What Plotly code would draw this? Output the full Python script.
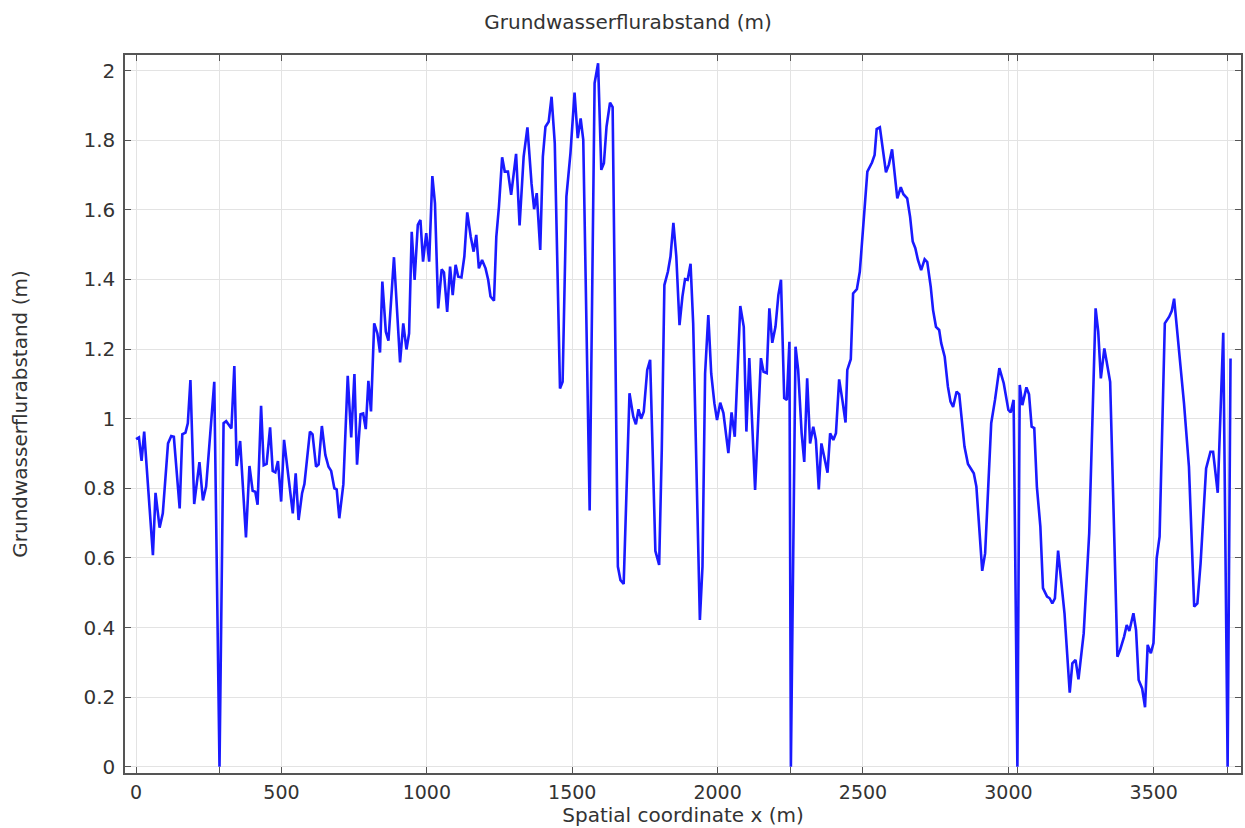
import plotly.graph_objects as go

# Groundwater depth below surface along the profile
x_m = [
    0, 10, 19, 28, 58, 67, 81, 92, 110, 121, 130, 150, 159, 170, 178, 187, 200, 218, 230, 241,
    269, 287, 301, 310, 328, 338, 346, 358, 378, 390, 401, 410, 418, 430, 439, 449, 461, 470, 479, 488,
    499, 509, 539, 549, 559, 571, 579, 598, 607, 619, 628, 639, 651, 662, 671, 682, 690, 699, 713, 728,
    740, 751, 760, 772, 781, 790, 799, 808, 819, 830, 839, 847, 859, 868, 887, 908, 919, 930, 939, 948,
    958, 969, 978, 987, 998, 1008, 1019, 1028, 1039, 1051, 1059, 1070, 1080, 1089, 1099, 1108, 1119, 1129, 1139, 1151,
    1161, 1170, 1179, 1190, 1202, 1211, 1219, 1231, 1239, 1248, 1259, 1268, 1279, 1290, 1307, 1319, 1333, 1346, 1360, 1369,
    1378, 1390, 1399, 1408, 1419, 1429, 1440, 1458, 1467, 1480, 1494, 1508, 1519, 1529, 1538, 1560, 1577, 1589, 1600, 1609,
    1618, 1630, 1639, 1657, 1666, 1677, 1697, 1710, 1719, 1728, 1737, 1746, 1758, 1768, 1786, 1799, 1808, 1817, 1829, 1838,
    1848, 1858, 1869, 1879, 1888, 1897, 1907, 1916, 1939, 1948, 1957, 1968, 1978, 1989, 1998, 2009, 2020, 2037, 2048, 2059,
    2078, 2090, 2099, 2109, 2129, 2149, 2158, 2169, 2178, 2188, 2199, 2209, 2218, 2229, 2238, 2247, 2252, 2268, 2277, 2289,
    2298, 2308, 2318, 2329, 2338, 2348, 2357, 2378, 2387, 2398, 2407, 2418, 2429, 2440, 2446, 2458, 2466, 2479, 2489, 2515,
    2531, 2540, 2547, 2558, 2579, 2589, 2600, 2609, 2618, 2630, 2639, 2652, 2662, 2671, 2680, 2689, 2700, 2712, 2721, 2733,
    2741, 2751, 2762, 2769, 2781, 2792, 2801, 2810, 2822, 2831, 2840, 2849, 2861, 2870, 2881, 2890, 2910, 2920, 2941, 2954,
    2969, 2984, 3000, 3008, 3018, 3031, 3039, 3048, 3062, 3071, 3080, 3089, 3098, 3110, 3119, 3133, 3142, 3151, 3160, 3171,
    3181, 3193, 3211, 3220, 3231, 3241, 3259, 3278, 3300, 3309, 3318, 3330, 3341, 3350, 3375, 3384, 3398, 3407, 3416, 3430,
    3439, 3448, 3460, 3470, 3479, 3490, 3499, 3510, 3520, 3538, 3553, 3562, 3570, 3587, 3604, 3621, 3639, 3650, 3661, 3680,
    3695, 3704, 3720, 3739, 3754, 3764,
]

depth_m = [
    0.941, 0.946, 0.879, 0.963, 0.608, 0.787, 0.687, 0.728, 0.929, 0.950, 0.948, 0.742, 0.955, 0.960, 0.987, 1.111, 0.755, 0.875, 0.765, 0.805,
    1.106, 0.0, 0.987, 0.993, 0.972, 1.151, 0.864, 0.936, 0.659, 0.864, 0.793, 0.790, 0.753, 1.037, 0.866, 0.870, 0.975, 0.850, 0.846, 0.878,
    0.762, 0.939, 0.728, 0.843, 0.709, 0.786, 0.812, 0.963, 0.955, 0.862, 0.869, 0.979, 0.896, 0.862, 0.850, 0.800, 0.797, 0.714, 0.812, 1.123,
    0.946, 1.128, 0.868, 1.013, 1.015, 0.970, 1.109, 1.021, 1.274, 1.245, 1.190, 1.394, 1.250, 1.224, 1.464, 1.162, 1.274, 1.199, 1.245, 1.537,
    1.399, 1.557, 1.571, 1.451, 1.533, 1.451, 1.697, 1.619, 1.317, 1.429, 1.420, 1.307, 1.437, 1.355, 1.442, 1.408, 1.406, 1.466, 1.593, 1.523,
    1.480, 1.528, 1.432, 1.456, 1.432, 1.399, 1.351, 1.339, 1.523, 1.609, 1.751, 1.710, 1.710, 1.643, 1.761, 1.555, 1.753, 1.837, 1.676, 1.602,
    1.648, 1.485, 1.753, 1.839, 1.853, 1.925, 1.791, 1.087, 1.106, 1.638, 1.763, 1.937, 1.806, 1.863, 1.801, 0.736, 1.964, 2.021, 1.715, 1.734,
    1.839, 1.908, 1.895, 0.575, 0.536, 0.525, 1.073, 1.006, 0.984, 1.027, 1.000, 1.020, 1.140, 1.169, 0.620, 0.580, 0.910, 1.384, 1.422, 1.466,
    1.563, 1.466, 1.269, 1.351, 1.401, 1.399, 1.445, 1.274, 0.422, 0.575, 1.130, 1.298, 1.130, 1.044, 0.996, 1.046, 1.016, 0.901, 1.018, 0.948,
    1.324, 1.264, 0.963, 1.174, 0.795, 1.174, 1.135, 1.131, 1.317, 1.218, 1.264, 1.355, 1.399, 1.059, 1.054, 1.221, 0.0, 1.207, 1.140, 0.958,
    0.876, 1.116, 0.929, 0.977, 0.939, 0.797, 0.929, 0.845, 0.958, 0.939, 0.958, 1.113, 1.054, 0.989, 1.140, 1.171, 1.360, 1.372, 1.422, 1.710,
    1.736, 1.758, 1.832, 1.837, 1.708, 1.730, 1.774, 1.695, 1.633, 1.665, 1.645, 1.633, 1.580, 1.509, 1.490, 1.456, 1.427, 1.458, 1.450, 1.379,
    1.312, 1.264, 1.255, 1.217, 1.178, 1.092, 1.049, 1.034, 1.078, 1.070, 0.996, 0.920, 0.870, 0.857, 0.843, 0.805, 0.563, 0.613, 0.987, 1.054,
    1.145, 1.102, 1.025, 1.018, 1.054, 0.0, 1.097, 1.039, 1.090, 1.070, 0.977, 0.973, 0.805, 0.690, 0.513, 0.489, 0.484, 0.469, 0.484, 0.621,
    0.546, 0.441, 0.213, 0.297, 0.307, 0.251, 0.383, 0.671, 1.317, 1.250, 1.116, 1.202, 1.149, 1.106, 0.316, 0.335, 0.374, 0.407, 0.390, 0.441,
    0.393, 0.249, 0.225, 0.171, 0.350, 0.326, 0.355, 0.599, 0.661, 1.274, 1.293, 1.310, 1.345, 1.197, 1.044, 0.862, 0.460, 0.469, 0.584, 0.857,
    0.905, 0.905, 0.787, 1.247, 0.0, 1.173,
]

x_tick_values = [0, 500, 1000, 1500, 2000, 2500, 3000, 3500]
x_tick_labels = ["0", "500", "1000", "1500", "2000", "2500", "3000", "3500"]
y_tick_values = [0, 0.2, 0.4, 0.6, 0.8, 1.0, 1.2, 1.4, 1.6, 1.8, 2.0]
y_tick_labels = ["0", "0.2", "0.4", "0.6", "0.8", "1", "1.2", "1.4", "1.6", "1.8", "2"]

# Points where the water table reaches the surface get their own unlabelled tick and grid line
surface_x = [x for x, d in zip(x_m, depth_m) if d == 0.0]

font_family = "DejaVu Sans, Verdana, sans-serif"
text_color = "#333333"
frame_color = "#555555"
grid_color = "#e3e3e3"

fig = go.Figure()
fig.add_trace(go.Scatter(
    x=x_m, y=depth_m, mode="lines",
    line=dict(color="#1a1aff", width=2.6),
    showlegend=False,
))

axis_common = dict(
    showline=True, linecolor=frame_color, linewidth=1.5,
    mirror="ticks", ticks="inside", ticklen=6, tickwidth=1.3, tickcolor=frame_color,
    showgrid=True, gridcolor=grid_color, gridwidth=1,
    zeroline=False,
)

fig.update_layout(
    width=1245, height=828,
    paper_bgcolor="white", plot_bgcolor="white",
    margin=dict(l=125, r=2, t=55, b=55),
    title=dict(
        text="Grundwasserflurabstand (m)",
        font=dict(family=font_family, size=20, color=text_color),
        x=628 / 1245, xref="container", xanchor="center",
        y=1 - 22 / 828, yref="container", yanchor="middle",
    ),
    xaxis=dict(
        **axis_common,
        range=[-38, 3800],
        tickmode="array",
        tickvals=x_tick_values + surface_x,
        ticktext=x_tick_labels + [""] * len(surface_x),
        tickfont=dict(family=font_family, size=19, color=text_color),
        ticklabelstandoff=1,
        title=dict(text="Spatial coordinate x (m)",
                   font=dict(family=font_family, size=20, color=text_color),
                   standoff=5),
    ),
    yaxis=dict(
        **axis_common,
        range=[-0.018, 2.045],
        tickmode="array",
        tickvals=y_tick_values,
        ticktext=y_tick_labels,
        tickfont=dict(family=font_family, size=20, color=text_color),
        ticklabelstandoff=4,
        title=dict(text="Grundwasserflurabstand (m)",
                   font=dict(family=font_family, size=20, color=text_color),
                   standoff=50),
    ),
)

fig.write_html("out.html")
